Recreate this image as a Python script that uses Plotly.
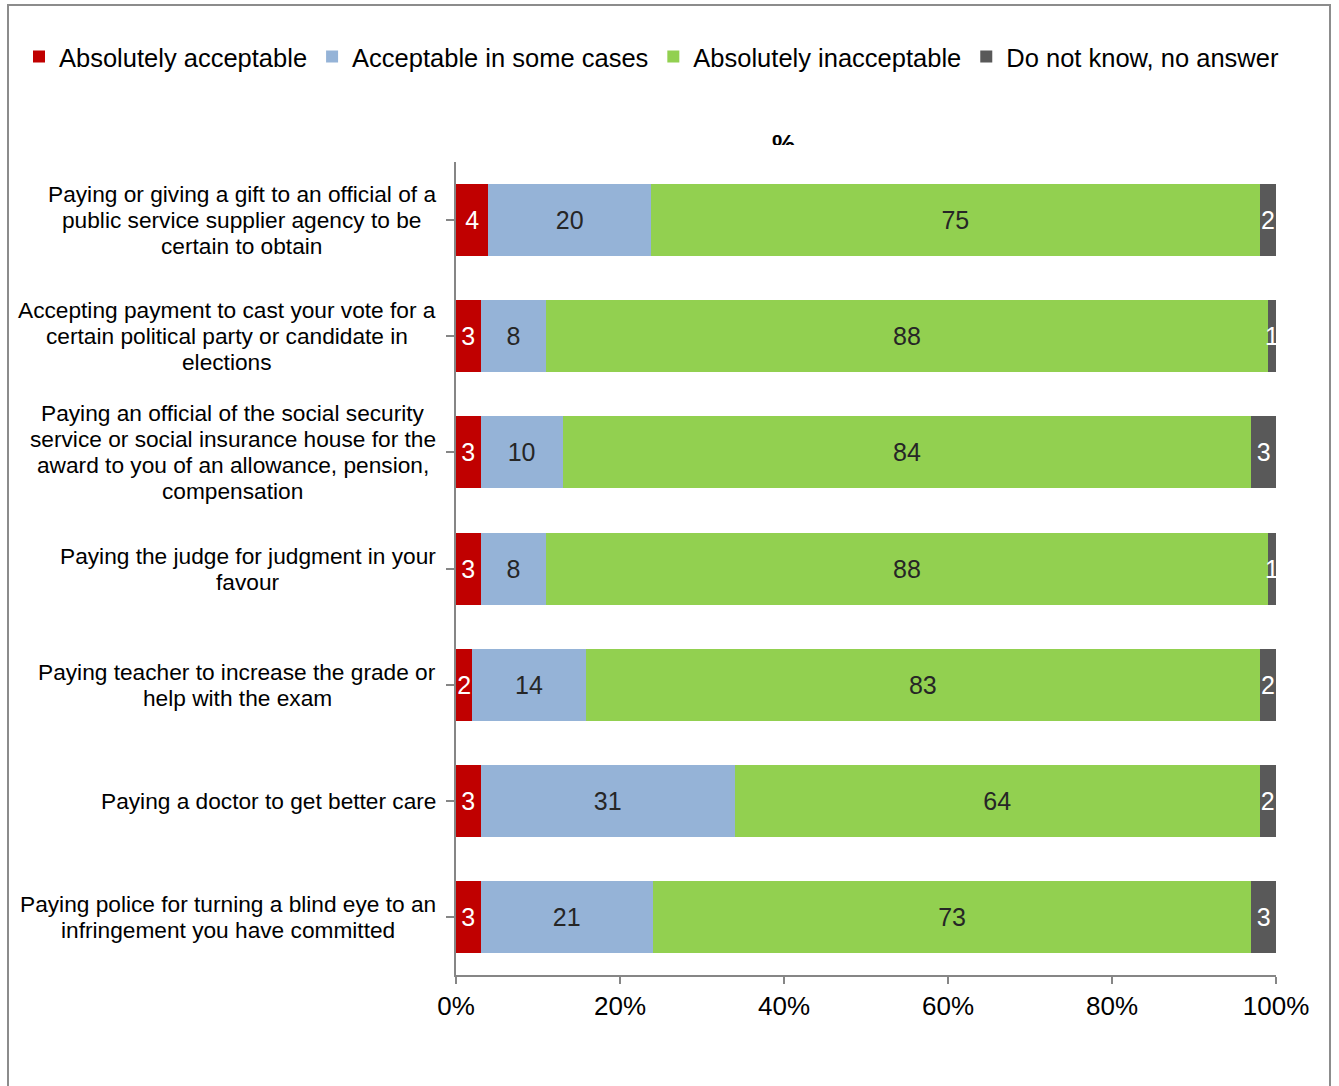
import plotly.graph_objects as go

# Survey items (top to bottom); <br> marks the line breaks of each label
categories = [
    "Paying or giving a gift to an official of a<br>public service supplier agency to be<br>certain to obtain",
    "Accepting payment to cast your vote for a<br>certain political party or candidate in<br>elections",
    "Paying an official of the social security<br>service or social insurance house for the<br>award to you of an allowance, pension,<br>compensation",
    "Paying the judge for judgment in your<br>favour",
    "Paying teacher to increase the grade or<br>help with the exam",
    "Paying a doctor to get better care",
    "Paying police for turning a blind eye to an<br>infringement you have committed",
]

absolutely_acceptable = [4, 3, 3, 3, 2, 3, 3]
acceptable_some_cases = [20, 8, 10, 8, 14, 31, 21]
absolutely_inacceptable = [75, 88, 84, 88, 83, 64, 73]
do_not_know = [2, 1, 3, 1, 2, 2, 3]

x_tick_values = [0, 20, 40, 60, 80, 100]
x_tick_labels = ["0%", "20%", "40%", "60%", "80%", "100%"]

series = [
    ("Absolutely acceptable", absolutely_acceptable, "#C00000", "white"),
    ("Acceptable in some cases", acceptable_some_cases, "#95B3D7", "#262626"),
    ("Absolutely inacceptable", absolutely_inacceptable, "#92D050", "#262626"),
    ("Do not know, no answer", do_not_know, "#595959", "white"),
]

FONT = "Arial, 'Liberation Sans', sans-serif"
LABEL_SIZE = 22.7
LINE = 26  # line pitch of the category labels

# Plot area geometry (pixels)
W, H = 1339, 1086
L, R, T, B = 456, 63, 162, 111
PW, PH = W - L - R, H - T - B

fig = go.Figure()
for name, vals, color, tcolor in series:
    fig.add_trace(go.Bar(
        y=list(range(len(categories))),
        x=vals,
        name=name,
        orientation="h",
        marker=dict(color=color, line=dict(width=0)),
        text=[str(v) for v in vals],
        textposition="inside",
        insidetextanchor="middle",
        textangle=0,
        constraintext="none",
        textfont=dict(family=FONT, size=25, color=tcolor),
        hoverinfo="skip",
    ))


def text_w(s, size=LABEL_SIZE):
    # approximate Arial advance widths (per 1000 em)
    widths = {' ': 278, ',': 278, '.': 278, 'i': 222, 'j': 222, 'l': 222, 'f': 278, 't': 278, 'r': 333,
              'c': 500, 'k': 500, 's': 500, 'v': 500, 'x': 500, 'y': 500, 'z': 500, 'm': 833, 'w': 722,
              'A': 667, 'P': 667}
    return sum(widths.get(ch, 556) for ch in s) * size / 1000


# Category labels: block right-aligned to the axis, each line centred in the block
annotations = []
for i, lab in enumerate(categories):
    lines = lab.split("<br>")
    n = len(lines)
    wmax = max(text_w(s) for s in lines)
    cx_px = -20 - wmax / 2
    for j, line in enumerate(lines):
        annotations.append(dict(
            x=cx_px / PW, xref="paper", y=i, yref="y",
            text=line, showarrow=False,
            xanchor="center", yanchor="middle",
            yshift=-(j - (n - 1) / 2) * LINE,
            font=dict(family=FONT, size=LABEL_SIZE, color="black"),
        ))

# Axis heading, partly hidden under the top of the plot
annotations.append(dict(
    x=(783 - L) / PW, xref="paper", y=1 + (T - 147) / PH, yref="paper",
    text="<b>%</b>", showarrow=False, xanchor="center", yanchor="bottom",
    height=16, valign="top",
    font=dict(family=FONT, size=26, color="black"),
))

fig.update_layout(
    width=W, height=H,
    margin=dict(l=L, r=R, t=T, b=B),
    paper_bgcolor="white", plot_bgcolor="white",
    barmode="stack", barnorm="percent", bargap=0.38,
    showlegend=True,
    legend=dict(
        orientation="h", x=(19 - L) / PW, xanchor="left",
        y=1 + (T - 57) / PH, yanchor="middle",
        font=dict(family=FONT, size=25.5, color="black"),
        traceorder="normal", itemwidth=30,
        bgcolor="rgba(0,0,0,0)",
    ),
    xaxis=dict(
        range=[0, 100], tickvals=x_tick_values, ticktext=x_tick_labels,
        showgrid=False, zeroline=False,
        showline=True, linecolor="#868686", linewidth=2,
        ticks="outside", ticklen=7, tickwidth=2, tickcolor="#868686",
        tickfont=dict(family=FONT, size=26, color="black"),
        fixedrange=True,
    ),
    yaxis=dict(
        range=[len(categories) - 0.5, -0.5],
        tickvals=list(range(len(categories))),
        showticklabels=False, showgrid=False, zeroline=False,
        showline=True, linecolor="#868686", linewidth=2,
        ticks="outside", ticklen=8, tickwidth=2, tickcolor="#868686",
        tickson="boundaries",
        fixedrange=True,
    ),
    annotations=annotations,
    shapes=[dict(
        type="rect", xref="paper", yref="paper",
        x0=(8 - L) / PW, x1=(1330 - L) / PW,
        y0=-(1100 - (T + PH)) / PH, y1=1 + (T - 5) / PH,
        line=dict(color="#8C8C8C", width=2), fillcolor="rgba(0,0,0,0)",
        layer="below",
    )],
)

fig.write_html("out.html")
